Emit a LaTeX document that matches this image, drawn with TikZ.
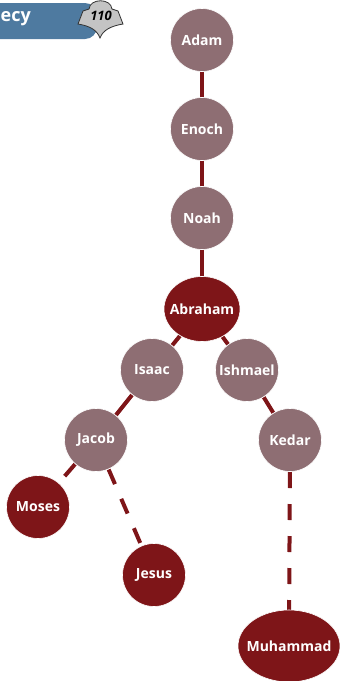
\documentclass[tikz,border=0pt]{standalone}
\usepackage{fontspec}
\setmainfont{Open Sans}
\usepackage{xcolor}
\usetikzlibrary{shapes.geometric, backgrounds}

\definecolor{lineage}{HTML}{7E1518}
\definecolor{ancestor}{HTML}{8E6E73}
\definecolor{bannerblue}{HTML}{4E7AA0}
\definecolor{badgegray}{HTML}{C4C4C4}

\tikzset{
  person/.style={circle, fill=ancestor, draw=white, line width=0.6pt, minimum size=63pt, inner sep=0pt,
    text=white, font=\bfseries\fontsize{14}{16}\selectfont},
  prophet/.style={person, fill=lineage},
  wideprophet/.style={prophet, ellipse, inner xsep=-8pt, minimum width=76pt, minimum height=65pt},
  link/.style={lineage, line width=4pt},
  faintlink/.style={link, dash pattern=on 16pt off 16pt}
}

\begin{document}
\begin{tikzpicture}[x=1pt, y=-1pt]
    \useasboundingbox (0,0) rectangle (340,681);

    % Chapter banner and page badge
    \fill[bannerblue, rounded corners=12pt] (-30,3) rectangle (97,39);
    \node[anchor=west, inner sep=0pt, text=white, font=\bfseries\fontsize{18}{20}\selectfont] (title) at (0.5,19) {ecy};
    \filldraw[fill=badgegray, draw=black!80, line width=0.8pt] (89,9) .. controls (90,-2) and (111,-2) .. (112,9)
      -- (118,11) -- (123,24) .. controls (111,26) and (103,30) .. (100,38)
      .. controls (97,30) and (90,26) .. (78,24) -- (83,11) -- cycle;
    \node[font=\bfseries\itshape\fontsize{13}{15}\selectfont] (page) at (101,16) {110};

    % Family tree
    \node[person] (adam) at (202,40) {Adam};
    \node[person] (enoch) at (202,129) {Enoch};
    \node[person] (noah) at (202,218) {Noah};
    \node[wideprophet] (abraham) at (202,309) {Abraham};
    \node[person] (isaac) at (152,370) {Isaac};
    \node[person] (ishmael) at (247,370) {Ishmael};
    \node[person] (jacob) at (96,440) {Jacob};
    \node[person] (kedar) at (290,440) {Kedar};
    \node[prophet] (moses) at (38,507) {Moses};
    \node[prophet] (jesus) at (154,575) {Jesus};
    \node[wideprophet, minimum width=102pt, minimum height=72pt] (muhammad) at (289,646) {Muhammad};

    \begin{scope}[on background layer]
      \draw[link] (adam) -- (enoch) -- (noah) -- (abraham);
      \draw[link] (abraham) -- (isaac) -- (jacob);
      \draw[link] (abraham) -- (ishmael) -- (kedar);
      \draw[faintlink] (jacob) -- (moses);
      \draw[faintlink] (jacob.center) -- (jesus.center);
      \draw[faintlink] (kedar.center) -- (muhammad.center);
    \end{scope}
\end{tikzpicture}
\end{document}
